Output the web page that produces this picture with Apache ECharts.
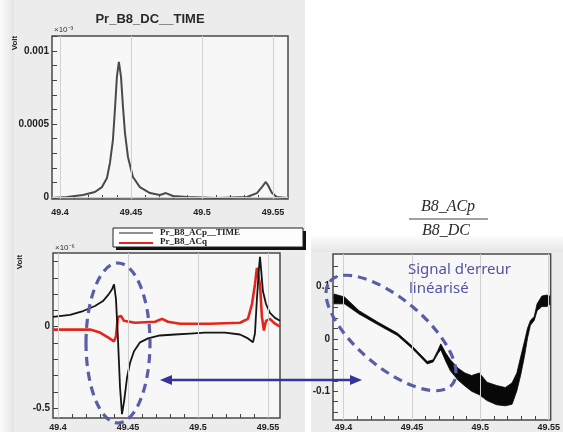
<!DOCTYPE html>
<html><head><meta charset="utf-8">
<script src="https://cdn.jsdelivr.net/npm/echarts@6/dist/echarts.min.js"></script>
<style>html,body{margin:0;padding:0;background:#fff}#c{width:563px;height:432px}</style>
</head><body><div id="c"></div>
<script>
// ---------- data ----------
const xTicks = [49.4, 49.45, 49.5, 49.55];
const xTickLabels = ['49.4', '49.45', '49.5', '49.55'];
const xMinor = [49.41, 49.42, 49.43, 49.44, 49.46, 49.47, 49.48, 49.49, 49.51, 49.52, 49.53, 49.54];

// top panel: Pr_B8_DC__TIME
const dcX = [49.3944, 49.4049, 49.4162, 49.4246, 49.4296, 49.4331, 49.4352, 49.4373, 49.4387, 49.4401, 49.4415, 49.4430, 49.4444, 49.4458, 49.4479, 49.4514, 49.4563, 49.4634, 49.4704, 49.4746, 49.4760, 49.4796, 49.4894, 49.5105, 49.5317, 49.5387, 49.5422, 49.5450, 49.5464, 49.5493, 49.5528, 49.5598];
const dcY = [-0.000007, 0, 0.000014, 0.000034, 0.000068, 0.00013, 0.000233, 0.00039, 0.000596, 0.000822, 0.000925, 0.000822, 0.000616, 0.000438, 0.000274, 0.000137, 0.000068, 0.000027, 0.000014, 0.000027, 0.000034, 0.000007, 0, -0.000007, 0, 0.000027, 0.000068, 0.000103, 0.000082, 0.000027, 0, -0.000007];
const dcYTicks = [0, 0.0005, 0.001];
const dcYTickLabels = ['0', '0.0005', '0.001'];
const dcYMinor = [0.0001, 0.0002, 0.0003, 0.0004, 0.0006, 0.0007, 0.0008, 0.0009, 0.0011];

// bottom-left panel: Pr_B8_ACp__TIME (black) and Pr_B8_ACq (red)
const acpX = [49.3964, 49.4086, 49.4179, 49.4264, 49.4321, 49.4357, 49.4386, 49.4400, 49.4414, 49.4428, 49.4443, 49.4457, 49.4471, 49.4493, 49.4514, 49.4543, 49.4586, 49.4643, 49.4728, 49.4836, 49.4943, 49.5050, 49.5193, 49.5300, 49.5357, 49.5393, 49.5407, 49.5421, 49.5436, 49.5443, 49.5450, 49.5464, 49.5486, 49.5514, 49.5550, 49.5586];
const acpY = [0.060, 0.072, 0.096, 0.127, 0.157, 0.193, 0.229, 0.259, 0.169, -0.072, -0.373, -0.536, -0.464, -0.313, -0.223, -0.151, -0.096, -0.072, -0.054, -0.048, -0.042, -0.036, -0.036, -0.048, -0.072, -0.096, -0.042, 0.169, 0.361, 0.428, 0.361, 0.217, 0.139, 0.084, 0.054, 0.036];
const acqX = [49.3964, 49.4229, 49.4300, 49.4357, 49.4400, 49.4414, 49.4428, 49.4450, 49.4471, 49.4550, 49.4693, 49.4743, 49.4786, 49.4871, 49.5086, 49.5300, 49.5357, 49.5386, 49.5407, 49.5421, 49.5428, 49.5443, 49.5457, 49.5471, 49.5486, 49.5514, 49.5550, 49.5586];
const acqY = [-0.018, -0.018, -0.036, -0.066, -0.090, -0.060, 0.060, 0.066, 0.036, 0.024, 0.030, 0.048, 0.030, 0.018, 0.018, 0.024, 0.048, 0.139, 0.259, 0.361, 0.373, 0.259, 0.060, -0.024, 0.036, 0.048, 0.018, 0];
const acYTicks = [-0.5, 0];
const acYTickLabels = ['-0.5', '0'];
const acYMinor = [-0.4, -0.3, -0.2, -0.1, 0.1, 0.2, 0.3, 0.4];

// right panel: ratio B8_ACp / B8_DC (noisy band: upper / lower envelope)
const rX = [49.3930, 49.4007, 49.4113, 49.4253, 49.4394, 49.4500, 49.4570, 49.4612, 49.4655, 49.4690, 49.4711, 49.4746, 49.4781, 49.4838, 49.4887, 49.4936, 49.4993, 49.5049, 49.5119, 49.5183, 49.5232, 49.5267, 49.5295, 49.5324, 49.5345, 49.5366, 49.5394, 49.5415, 49.5450, 49.5486, 49.5507];
const rHigh = [0.0860, 0.0804, 0.0542, 0.0318, 0.0112, -0.0131, -0.0318, -0.0430, -0.0400, -0.0215, -0.0093, -0.0262, -0.0400, -0.0560, -0.0650, -0.0700, -0.0650, -0.0830, -0.0890, -0.0930, -0.0840, -0.0650, -0.0340, -0.0030, 0.0206, 0.0355, 0.0430, 0.0673, 0.0822, 0.0840, 0.0822];
const rLow = [0.0673, 0.0672, 0.0478, 0.0270, 0.0065, -0.0178, -0.0365, -0.0478, -0.0440, -0.0280, -0.0206, -0.0420, -0.0610, -0.0790, -0.0900, -0.1000, -0.1070, -0.1180, -0.1260, -0.1280, -0.1250, -0.0990, -0.0690, -0.0310, 0.0019, 0.0262, 0.0355, 0.0542, 0.0620, 0.0620, 0.0660];
const rYTicks = [-0.1, 0, 0.1];
const rYTickLabels = ['-0.1', '0', '0.1'];
const rYMinor = [-0.14, -0.12, -0.08, -0.06, -0.04, -0.02, 0.02, 0.04, 0.06, 0.08, 0.12, 0.14];

// ---------- helpers ----------
const zip = (xs, ys) => xs.map((x, i) => [x, ys[i]]);
const xFont = { fontFamily: 'Liberation Sans', fontWeight: 'bold', fontSize: 9, color: '#222' };
const yFont = { fontFamily: 'Liberation Sans', fontWeight: 'bold', fontSize: 10, color: '#222' };

function mainX(gi, min, max, margin) {
  return {
    type: 'value', gridIndex: gi, min, max, position: 'bottom',
    axisLine: { show: false, onZero: false },
    axisTick: { show: true, inside: true, length: 4, customValues: xTicks.concat(xMinor), lineStyle: { color: '#444', width: 1 } },
    axisLabel: Object.assign({ customValues: xTicks, margin: margin,
      formatter: v => xTickLabels[xTicks.findIndex(t => Math.abs(t - v) < 1e-6)] || '' }, xFont),
    splitLine: { show: false }
  };
}
function mainY(gi, min, max, ticks, labels, minor) {
  return {
    type: 'value', gridIndex: gi, min, max, position: 'left',
    axisLine: { show: false, onZero: false },
    axisTick: { show: true, inside: true, length: 5, customValues: ticks.concat(minor), lineStyle: { color: '#444' } },
    axisLabel: Object.assign({ customValues: ticks, margin: 3,
      formatter: v => labels[ticks.findIndex(t => Math.abs(t - v) < 1e-9)] || '' }, yFont),
    splitLine: { show: false }
  };
}
function gridLines(xi, yi, ys) {
  const data = xTicks.map(v => ({ xAxis: v })).concat((ys || []).map(v => ({ yAxis: v })));
  return {
    type: 'line', xAxisIndex: xi, yAxisIndex: yi, data: [], z: 1, silent: true,
    markLine: { silent: true, symbol: 'none', label: { show: false },
      lineStyle: { color: '#d0d0d0', width: 1, type: 'solid' }, data: data, animation: false }
  };
}

// axis ranges (from reading the frames)
const X0 = [49.3944, 49.5606], Y0 = [-0.0000137, 0.0011027];
const X1 = [49.3964, 49.5586], Y1 = [-0.560, 0.4518];
const X2 = [49.3923, 49.5514], Y2 = [-0.1551, 0.1626];

const gridStyle = { show: true, backgroundColor: '#f7f7f7', borderColor: '#4a4a4a', borderWidth: 1.5 };

const option = {
  animation: false,
  backgroundColor: '#ffffff',
  grid: [
    Object.assign({ left: 52, top: 36, width: 236, height: 163 }, gridStyle),
    Object.assign({ left: 53, top: 253, width: 227, height: 168 }, gridStyle),
    Object.assign({ left: 333, top: 254, width: 226, height: 170 }, gridStyle)
  ],
  xAxis: [
    mainX(0, X0[0], X0[1], 9), mainX(1, X1[0], X1[1], 5), mainX(2, X2[0], X2[1], 3)
  ],
  yAxis: [
    mainY(0, Y0[0], Y0[1], dcYTicks, dcYTickLabels, dcYMinor),
    mainY(1, Y1[0], Y1[1], acYTicks, acYTickLabels, acYMinor),
    mainY(2, Y2[0], Y2[1], rYTicks, rYTickLabels, rYMinor)
  ],
  series: [
    gridLines(0, 0, [0.0005, 0.001]),
    gridLines(1, 1, []),
    gridLines(2, 2, []),
    { name: 'Pr_B8_DC__TIME', type: 'line', xAxisIndex: 0, yAxisIndex: 0, data: zip(dcX, dcY),
      showSymbol: false, lineStyle: { color: '#4a4a4a', width: 2 }, z: 3 },
    { name: 'Pr_B8_ACq', type: 'line', xAxisIndex: 1, yAxisIndex: 1, data: zip(acqX, acqY),
      showSymbol: false, lineStyle: { color: '#e3261c', width: 2.6 }, z: 3 },
    { name: 'Pr_B8_ACp__TIME', type: 'line', xAxisIndex: 1, yAxisIndex: 1, data: zip(acpX, acpY),
      showSymbol: false, lineStyle: { color: '#151515', width: 1.8 }, z: 4 },
    { name: 'B8_ACp/B8_DC', type: 'custom', xAxisIndex: 2, yAxisIndex: 2, coordinateSystem: 'cartesian2d',
      data: [[rX[0], rHigh[0]]], z: 3, clip: true,
      renderItem: function (params, api) {
        const up = rX.map((x, i) => api.coord([x, rHigh[i]]));
        const lo = rX.map((x, i) => api.coord([x, rLow[i]])).reverse();
        return { type: 'polygon', shape: { points: up.concat(lo) },
          style: { fill: '#080808', stroke: '#080808', lineWidth: 0.8 } };
      } }
  ],
  graphic: [
    // panel backgrounds
    { type: 'rect', z: -10, shape: { x: 0, y: 0, width: 14, height: 432 },
      style: { fill: new echarts.graphic.LinearGradient(0, 0, 1, 0, [{ offset: 0, color: '#fbfbfb' }, { offset: 1, color: '#e4e4e4' }]) } },
    { type: 'rect', z: -10, shape: { x: 14, y: 0, width: 291, height: 432 }, style: { fill: '#ececec' } },
    { type: 'rect', z: -10, shape: { x: 311, y: 236, width: 252, height: 16 },
      style: { fill: new echarts.graphic.LinearGradient(0, 0, 0, 1, [{ offset: 0, color: '#fbfbfb' }, { offset: 1, color: '#e6e6e6' }]) } },
    { type: 'rect', z: -10, shape: { x: 311, y: 252, width: 252, height: 180 }, style: { fill: '#ececec' } },
    // top title
    { type: 'text', z: 50, x: 150, y: 19, style: { text: 'Pr_B8_DC__TIME', fill: '#2a2a2a',
      font: 'bold 13px "Liberation Sans"', textAlign: 'center', textVerticalAlign: 'middle' } },
    // y-axis titles and exponents
    { type: 'text', z: 50, x: 15, y: 43, rotation: Math.PI / 2, style: { text: 'Volt', fill: '#222',
      font: 'bold 8px "Liberation Sans"', textAlign: 'center', textVerticalAlign: 'middle' } },
    { type: 'text', z: 50, x: 20, y: 262, rotation: Math.PI / 2, style: { text: 'Volt', fill: '#222',
      font: 'bold 8px "Liberation Sans"', textAlign: 'center', textVerticalAlign: 'middle' } },
    { type: 'text', z: 50, x: 54, y: 30, style: { text: '×10⁻³', fill: '#333',
      font: '8px "Liberation Sans"', textAlign: 'left', textVerticalAlign: 'middle' } },
    { type: 'text', z: 50, x: 55, y: 248, style: { text: '×10⁻⁶', fill: '#333',
      font: '8px "Liberation Sans"', textAlign: 'left', textVerticalAlign: 'middle' } },
    // legend box
    { type: 'rect', z: 60, shape: { x: 116, y: 231, width: 190, height: 19 }, style: { fill: '#111' } },
    { type: 'rect', z: 61, shape: { x: 113, y: 228, width: 190, height: 19 }, style: { fill: '#fdfdfd', stroke: '#222', lineWidth: 1 } },
    { type: 'line', z: 62, shape: { x1: 119, y1: 233, x2: 153, y2: 233 }, style: { stroke: '#222', lineWidth: 1.2 } },
    { type: 'line', z: 62, shape: { x1: 119, y1: 243, x2: 153, y2: 243 }, style: { stroke: '#e3261c', lineWidth: 2 } },
    { type: 'text', z: 62, x: 160, y: 233, style: { text: 'Pr_B8_ACp__TIME', fill: '#222',
      font: 'bold 9px "Liberation Serif"', textAlign: 'left', textVerticalAlign: 'middle' } },
    { type: 'text', z: 62, x: 160, y: 242, style: { text: 'Pr_B8_ACq', fill: '#222',
      font: 'bold 9px "Liberation Serif"', textAlign: 'left', textVerticalAlign: 'middle' } },
    // fraction label
    { type: 'text', z: 50, x: 448, y: 207, style: { text: 'B8_ACp', fill: '#2a2a2a',
      font: 'italic 16px "Liberation Serif"', textAlign: 'center', textVerticalAlign: 'middle' } },
    { type: 'line', z: 50, shape: { x1: 409, y1: 219, x2: 488, y2: 219 }, style: { stroke: '#444', lineWidth: 1 } },
    { type: 'text', z: 50, x: 446, y: 231, style: { text: 'B8_DC', fill: '#2a2a2a',
      font: 'italic 16px "Liberation Serif"', textAlign: 'center', textVerticalAlign: 'middle' } },
    // annotation text
    { type: 'text', z: 50, x: 408, y: 270, style: { text: "Signal d'erreur", fill: '#5252a6',
      font: '15px "Noto Sans"', textAlign: 'left', textVerticalAlign: 'middle' } },
    { type: 'text', z: 50, x: 409, y: 289, style: { text: 'linéarisé', fill: '#5252a6',
      font: '15px "Noto Sans"', textAlign: 'left', textVerticalAlign: 'middle' } },
    // dashed ellipses
    { type: 'ellipse', z: 70, x: 118, y: 343, shape: { cx: 0, cy: 0, rx: 32, ry: 80 },
      style: { fill: 'none', stroke: '#5a5ea8', lineWidth: 3.2, lineDash: [9, 6] } },
    { type: 'ellipse', z: 70, x: 391, y: 333, rotation: -0.70, shape: { cx: 0, cy: 0, rx: 80, ry: 34 },
      style: { fill: 'none', stroke: '#5a5ea8', lineWidth: 3.2, lineDash: [9, 6] } },
    // double arrow
    { type: 'line', z: 70, shape: { x1: 168, y1: 380, x2: 354, y2: 380 }, style: { stroke: '#34349a', lineWidth: 2.6 } },
    { type: 'polygon', z: 70, shape: { points: [[160, 380], [172, 375], [172, 385]] }, style: { fill: '#34349a' } },
    { type: 'polygon', z: 70, shape: { points: [[362, 380], [350, 375], [350, 385]] }, style: { fill: '#34349a' } }
  ]
};

const chart = echarts.init(document.getElementById('c'), null, { renderer: 'canvas' });
chart.setOption(option);
</script>
</body></html>
